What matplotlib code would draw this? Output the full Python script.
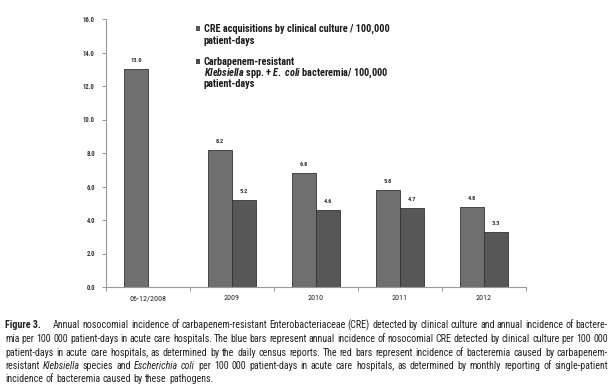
import numpy as np
import matplotlib as mpl
mpl.use('Agg')
import matplotlib.pyplot as plt
from matplotlib.patches import Rectangle
from matplotlib.ticker import FixedLocator

categories = ["06-12/2008", "2009", "2010", "2011", "2012"]
cre_culture = [13.0, 8.2, 6.8, 5.8, 4.8]
bacteremia = [np.nan, 5.2, 4.6, 4.7, 3.3]
yticks = [0, 2, 4, 6, 8, 10, 12, 14, 16]
legend_lines = [
    ["CRE acquisitions by clinical culture / 100,000", "patient-days"],
    ["Carbapenem-resistant",
     "$\\it{Klebsiella}$ spp. + $\\it{E.\\ coli}$ bacteremia/ 100,000",
     "patient-days"],
]

narrow = ['Roboto Condensed', 'DejaVu Sans']
plt.rcParams['mathtext.fontset'] = 'custom'
plt.rcParams['mathtext.rm'] = 'Roboto Condensed:bold'
plt.rcParams['mathtext.it'] = 'Roboto Condensed:italic:bold'
plt.rcParams['mathtext.bf'] = 'Roboto Condensed:bold'

W, H = 614, 386
fig = plt.figure(figsize=(W / 100, H / 100), dpi=100)
ax = fig.add_axes([106 / W, 1 - 287 / H, 420 / W, 268 / H])

x = np.arange(len(categories))
bw = 0.28
b1 = ax.bar(x - bw / 2, cre_culture, bw, color='#6f6f6f', edgecolor='#333333', linewidth=0.6)
b2 = ax.bar(x + bw / 2, bacteremia, bw, color='#575757', edgecolor='#333333', linewidth=0.6)

for bars, vals in ((b1, cre_culture), (b2, bacteremia)):
    for r, v in zip(bars, vals):
        if np.isnan(v):
            continue
        ax.text(r.get_x() + r.get_width() / 2, v + 0.35, "%.1f" % v, ha='center', va='bottom',
                fontsize=4.6, fontweight='bold', color='#333333', family=narrow)

ax.set_xlim(-0.5, 4.5)
ax.set_ylim(0, 16)
ax.set_yticks(yticks)
ax.set_yticklabels(["%.1f" % t for t in yticks], fontsize=4.8, fontweight='bold', color='#333333',
                   family=narrow)
ax.set_xticks(x)
ax.set_xticklabels(categories, fontsize=5.8, color='#222222', family=narrow)
ax.xaxis.set_minor_locator(FixedLocator(np.arange(-0.5, 5.0, 1.0)))
ax.tick_params(axis='x', which='major', length=0, pad=6)
ax.tick_params(axis='x', which='minor', length=3, width=0.6, color='#888888')
ax.tick_params(axis='y', length=3, width=0.6, color='#888888', pad=5)
for s in ('top', 'right'):
    ax.spines[s].set_visible(False)
for s in ('left', 'bottom'):
    ax.spines[s].set_color('#999999')
    ax.spines[s].set_linewidth(0.8)

# legend drawn by hand: square beside first line of each entry
entry_y = [[29, 41], [62, 73, 84]]
for lines, ys, col in zip(legend_lines, entry_y, ['#555555', '#4a4a4a']):
    fig.patches.append(Rectangle((196 / W, 1 - (ys[0] + 2) / H), 4.5 / W, 4.5 / H,
                                 transform=fig.transFigure, facecolor=col, edgecolor='none'))
    for ln, yp in zip(lines, ys):
        fig.text(204 / W, 1 - yp / H, ln, fontsize=7.4, fontweight='bold', family=narrow,
                 color='#1a1a1a', va='center', ha='left')

# caption, justified line by line
caption = [
    ([("Figure 3.", 'bold')], "Annual nosocomial incidence of carbapenem-resistant Enterobacteriaceae (CRE) detected by clinical culture and annual incidence of bactere-", True),
    ([], "mia per 100 000 patient-days in acute care hospitals. The blue bars represent annual incidence of nosocomial CRE detected by clinical culture per 100 000", True),
    ([], "patient-days in acute care hospitals, as determined by the daily census reports. The red bars represent incidence of bacteremia caused by carbapenem-", True),
    ([], "resistant |Klebsiella| species and |Escherichia coli| per 100 000 patient-days in acute care hospitals, as determined by monthly reporting of single-patient", True),
    ([], "incidence of bacteremia caused by these pathogens.", False),
]
line_y = [325, 339, 353, 366, 379]
x0, x1 = 5, 608
renderer = fig.canvas.get_renderer()

for (lead, body, just), yp in zip(caption, line_y):
    tokens = list(lead)
    parts = body.split("|")
    for i, p in enumerate(parts):
        style = 'italic' if i % 2 else 'normal'
        for w in p.split():
            tokens.append((w, style))
    texts = []
    for w, st in tokens:
        t = fig.text(0, 1 - yp / H, w, fontsize=7.2, va='center', ha='left', family=narrow, color='#222222',
                     fontweight='bold' if st == 'bold' else 'normal',
                     fontstyle='italic' if st == 'italic' else 'normal')
        texts.append(t)
    widths = [t.get_window_extent(renderer).width for t in texts]
    extra = 10 if lead else 0
    ngap = len(texts) - 1
    if just:
        gap = (x1 - x0 - sum(widths) - extra) / ngap
    else:
        gap = 2.4
    pos = x0
    for i, (t, wd) in enumerate(zip(texts, widths)):
        t.set_x(pos / W)
        pos += wd + gap
        if i == 0 and lead:
            pos += extra

fig.savefig('out.png', dpi=100)
